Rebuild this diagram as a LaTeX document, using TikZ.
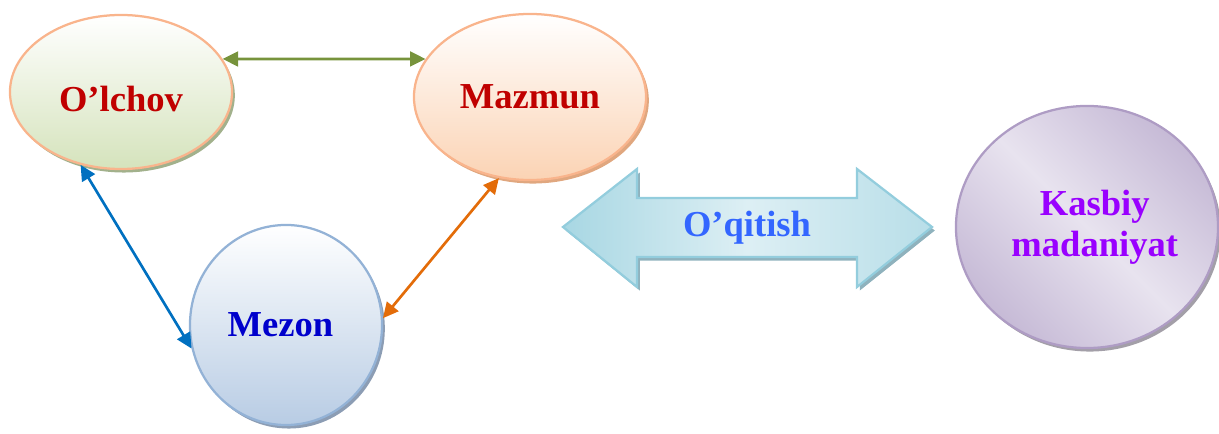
\documentclass[tikz,border=0pt]{standalone}
\usepackage{fontspec}
\setmainfont{Liberation Serif}
\usetikzlibrary{shapes.geometric}
\usetikzlibrary{arrows.meta}
\usetikzlibrary{shadows}

\definecolor{olchovtxt}{HTML}{C00000}
\definecolor{mezontxt}{HTML}{0000CC}
\definecolor{teachtxt}{HTML}{3366FF}
\definecolor{kasbtxt}{HTML}{9900FF}
\definecolor{peachline}{HTML}{F9B48C}
\definecolor{greenlow}{HTML}{D5E3BC}
\definecolor{greenshade}{HTML}{A2B18C}
\definecolor{peachlow}{HTML}{FBD3B4}
\definecolor{peachshade}{HTML}{E0A77F}
\definecolor{bluelow}{HTML}{B8CCE4}
\definecolor{blueline}{HTML}{93B2D6}
\definecolor{blueshade}{HTML}{8C9DB4}
\definecolor{lilacdark}{HTML}{C6BAD6}
\definecolor{lilaclight}{HTML}{E8E3EF}
\definecolor{lilacline}{HTML}{AE9CC4}
\definecolor{lilacshade}{HTML}{A39FA8}
\definecolor{cyanline}{HTML}{93CDDD}
\definecolor{cyandark}{HTML}{A8D7E3}
\definecolor{cyanlight}{HTML}{DDEFF4}
\definecolor{cyanshade}{HTML}{8FB2BD}
\definecolor{linkgreen}{HTML}{77933C}
\definecolor{linkblue}{HTML}{0070C0}
\definecolor{linkorange}{HTML}{E36C09}

\begin{document}
\begin{tikzpicture}[x=0.025cm, y=0.025cm, line width=1.6pt,
  bubble/.style={ellipse, inner sep=0pt, align=center,
    font=\fontsize{26}{29}\selectfont\bfseries},
  shade/.style={drop shadow={fill=#1, opacity=1, shadow xshift=2pt, shadow yshift=-2.5pt}},
  link/.style={line width=1.9pt, {Triangle[length=11pt,width=10.5pt]}-{Triangle[length=11pt,width=10.5pt]}}]
\useasboundingbox (0,0) rectangle (1219,434);
\node[bubble, draw=peachline, top color=white, bottom color=greenlow, shade=greenshade,
  text=olchovtxt, text height=28pt, minimum width=5.55cm, minimum height=3.85cm] (olchov) at (121,342) {O’lchov};
\node[bubble, draw=peachline, top color=white, bottom color=peachlow, shade=peachshade,
  text=olchovtxt, minimum width=5.8cm, minimum height=4.15cm] (mazmun) at (530,337) {Mazmun};
\node[bubble, draw=blueline, top color=white, bottom color=bluelow, shade=blueshade,
  text=mezontxt, minimum width=4.8cm, minimum height=5cm] (mezon) at (286,109) {Mezon\hspace{8pt}};
\node[bubble, draw=lilacline, top color=lilacdark, bottom color=lilacdark, middle color=lilaclight,
  shading angle=135, shade=lilacshade, text=kasbtxt, minimum width=6.55cm, minimum height=6.05cm]
  (kasbiy) at (1087,207) {\hspace{11pt}Kasbiy\\\hspace{11pt}madaniyat};
\path[draw=cyanline, left color=cyandark, right color=cyandark!70!cyanlight, middle color=cyanlight, shade=cyanshade]
  (563,207) -- (637,265) -- (637,236) -- (857,236) -- (857,265) -- (932,207)
  -- (857,147) -- (857,177) -- (637,177) -- (637,147) -- cycle;
\node[font=\fontsize{26}{29}\selectfont\bfseries, text=teachtxt] (teach) at (747,206) {O’qitish};
\foreach \from/\to/\col in {olchov.18.6/mazmun.160.2/linkgreen,
    olchov.241.7/mezon.194.9/linkblue, mazmun.249.4/mezon.4.3/linkorange}
  \draw[link, draw=\col] (\from) -- (\to);
\end{tikzpicture}
\end{document}
